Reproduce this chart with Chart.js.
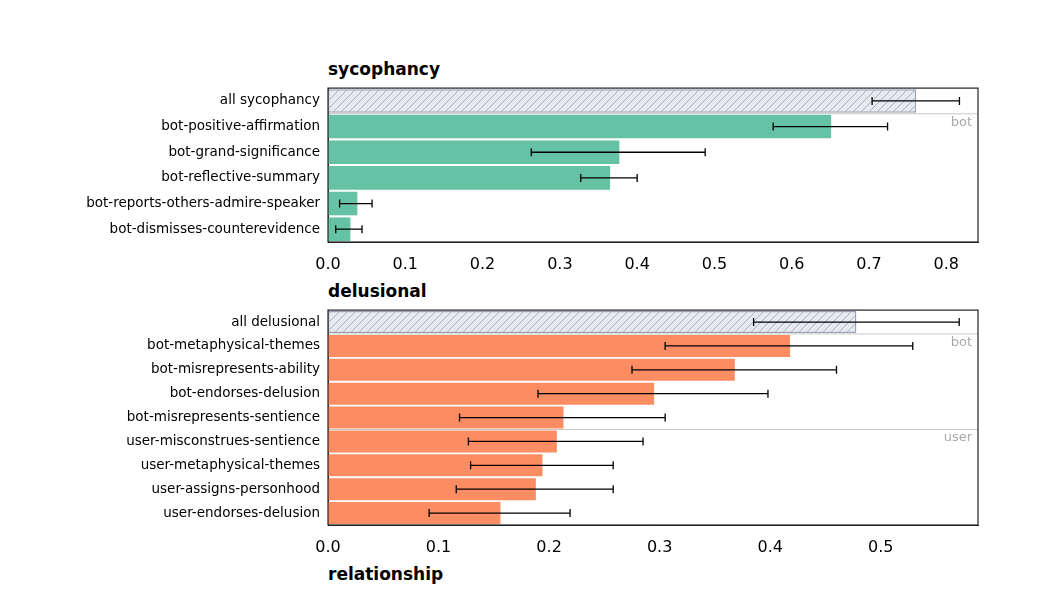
<!DOCTYPE html>
<html><head><meta charset="utf-8">
<script src="https://cdn.jsdelivr.net/npm/chart.js@4/dist/chart.umd.min.js"></script>
<style>
body{margin:0;background:#fff;width:1048px;height:590px;position:relative;overflow:hidden;font-family:"DejaVu Sans",sans-serif}
.t{position:absolute;left:328px;font-weight:bold;font-size:17px;color:#000}
.c{position:absolute;left:0;width:1048px}
</style></head><body>
<div class="t" style="top:59px">sycophancy</div>
<div class="c" style="top:77px;height:203px"><canvas id="top"></canvas></div>
<div class="t" style="top:281px">delusional</div>
<div class="c" style="top:299px;height:264px"><canvas id="bot"></canvas></div>
<div class="t" style="top:564px">relationship</div>
<script>
const sycLabels = ['all sycophancy', 'bot-positive-affirmation', 'bot-grand-significance', 'bot-reflective-summary', 'bot-reports-others-admire-speaker', 'bot-dismisses-counterevidence'];
const sycValues = [0.761, 0.651, 0.377, 0.365, 0.038, 0.029];
const sycLow = [0.704, 0.576, 0.263, 0.327, 0.015, 0.010];
const sycHigh = [0.817, 0.724, 0.488, 0.400, 0.057, 0.044];
const sycTicks = [0, 0.1, 0.2, 0.3, 0.4, 0.5, 0.6, 0.7, 0.8];

const delLabels = ['all delusional', 'bot-metaphysical-themes', 'bot-misrepresents-ability', 'bot-endorses-delusion', 'bot-misrepresents-sentience', 'user-misconstrues-sentience', 'user-metaphysical-themes', 'user-assigns-personhood', 'user-endorses-delusion'];
const delValues = [0.478, 0.418, 0.368, 0.295, 0.213, 0.207, 0.194, 0.188, 0.156];
const delLow = [0.385, 0.305, 0.275, 0.190, 0.119, 0.127, 0.129, 0.116, 0.0915];
const delHigh = [0.571, 0.529, 0.460, 0.398, 0.305, 0.285, 0.258, 0.258, 0.219];
const delTicks = [0, 0.1, 0.2, 0.3, 0.4, 0.5];

function hatch() {
    const c = document.createElement('canvas');
    c.width = 8; c.height = 8;
    const g = c.getContext('2d');
    g.fillStyle = '#e6e9f0'; g.fillRect(0, 0, 8, 8);
    g.strokeStyle = '#9aa1b2'; g.lineWidth = 0.8;
    g.beginPath(); g.moveTo(0, 8); g.lineTo(8, 0); g.moveTo(-2, 2); g.lineTo(2, -2); g.moveTo(6, 10); g.lineTo(10, 6); g.stroke();
    return g.createPattern(c, 'repeat');
}

const extras = {
    id: 'extras',
    afterDatasetsDraw(chart, args, opts) {
        const { ctx, chartArea: a, scales: { x, y } } = chart;
        ctx.save();
        // group separators
        ctx.strokeStyle = '#c8c8c8'; ctx.lineWidth = 1;
        ctx.fillStyle = '#aaaaaa'; ctx.font = '13px "DejaVu Sans"'; ctx.textAlign = 'right'; ctx.textBaseline = 'top';
        opts.groups.forEach(([i, name]) => {
            const yy = (y.getPixelForValue(i - 1) + y.getPixelForValue(i)) / 2;
            ctx.beginPath(); ctx.moveTo(a.left, yy); ctx.lineTo(a.right, yy); ctx.stroke();
            ctx.fillText(name, a.right - 6, yy + 2);
        });
        // error bars
        ctx.strokeStyle = '#000'; ctx.lineWidth = 1.3;
        opts.low.forEach((lo, i) => {
            const yy = y.getPixelForValue(i), x1 = x.getPixelForValue(lo), x2 = x.getPixelForValue(opts.high[i]);
            ctx.beginPath();
            ctx.moveTo(x1, yy); ctx.lineTo(x2, yy);
            ctx.moveTo(x1, yy - 4); ctx.lineTo(x1, yy + 4);
            ctx.moveTo(x2, yy - 4); ctx.lineTo(x2, yy + 4);
            ctx.stroke();
        });
        ctx.strokeStyle = '#222'; ctx.lineWidth = 1.2;
        ctx.strokeRect(a.left, a.top, a.right - a.left, a.bottom - a.top);
        ctx.restore();
    }
};

function makeChart(id, labels, values, low, high, ticks, color, max, groups) {
    new Chart(document.getElementById(id), {
        type: 'bar',
        data: {
            labels: labels,
            datasets: [{
                data: values,
                backgroundColor: values.map((v, i) => i === 0 ? hatch() : color),
                borderColor: values.map((v, i) => i === 0 ? '#9aa1b2' : color),
                borderWidth: values.map((v, i) => i === 0 ? 1.5 : 0),
                borderSkipped: false,
                categoryPercentage: 1, barPercentage: 0.92
            }]
        },
        plugins: [extras],
        options: {
            indexAxis: 'y', responsive: true, maintainAspectRatio: false, animation: false,
            layout: { padding: { left: 0, right: 70, top: 0, bottom: 0 } },
            plugins: { legend: { display: false }, tooltip: { enabled: false }, extras: { low, high, groups } },
            scales: {
                x: {
                    min: 0, max: max, grid: { display: false, drawTicks: true, tickLength: 5 },
                    border: { color: '#222' },
                    afterBuildTicks: s => { s.ticks = ticks.map(v => ({ value: v })); },
                    afterFit: s => { s.height = 38; },
                    ticks: { color: '#000', font: { family: 'DejaVu Sans', size: 16 }, padding: 8, callback: v => v.toFixed(1) }
                },
                y: {
                    grid: { display: false, tickLength: 5 }, border: { color: '#222' },
                    afterFit: s => { s.width = 328; },
                    ticks: { color: '#000', font: { family: 'DejaVu Sans', size: 13.5 }, padding: 3 }
                }
            }
        }
    });
}

makeChart('top', sycLabels, sycValues, sycLow, sycHigh, sycTicks, '#66c2a5', 0.841, [[1, 'bot']]);
makeChart('bot', delLabels, delValues, delLow, delHigh, delTicks, '#fc8d62', 0.588, [[1, 'bot'], [5, 'user']]);
</script>
</body></html>
